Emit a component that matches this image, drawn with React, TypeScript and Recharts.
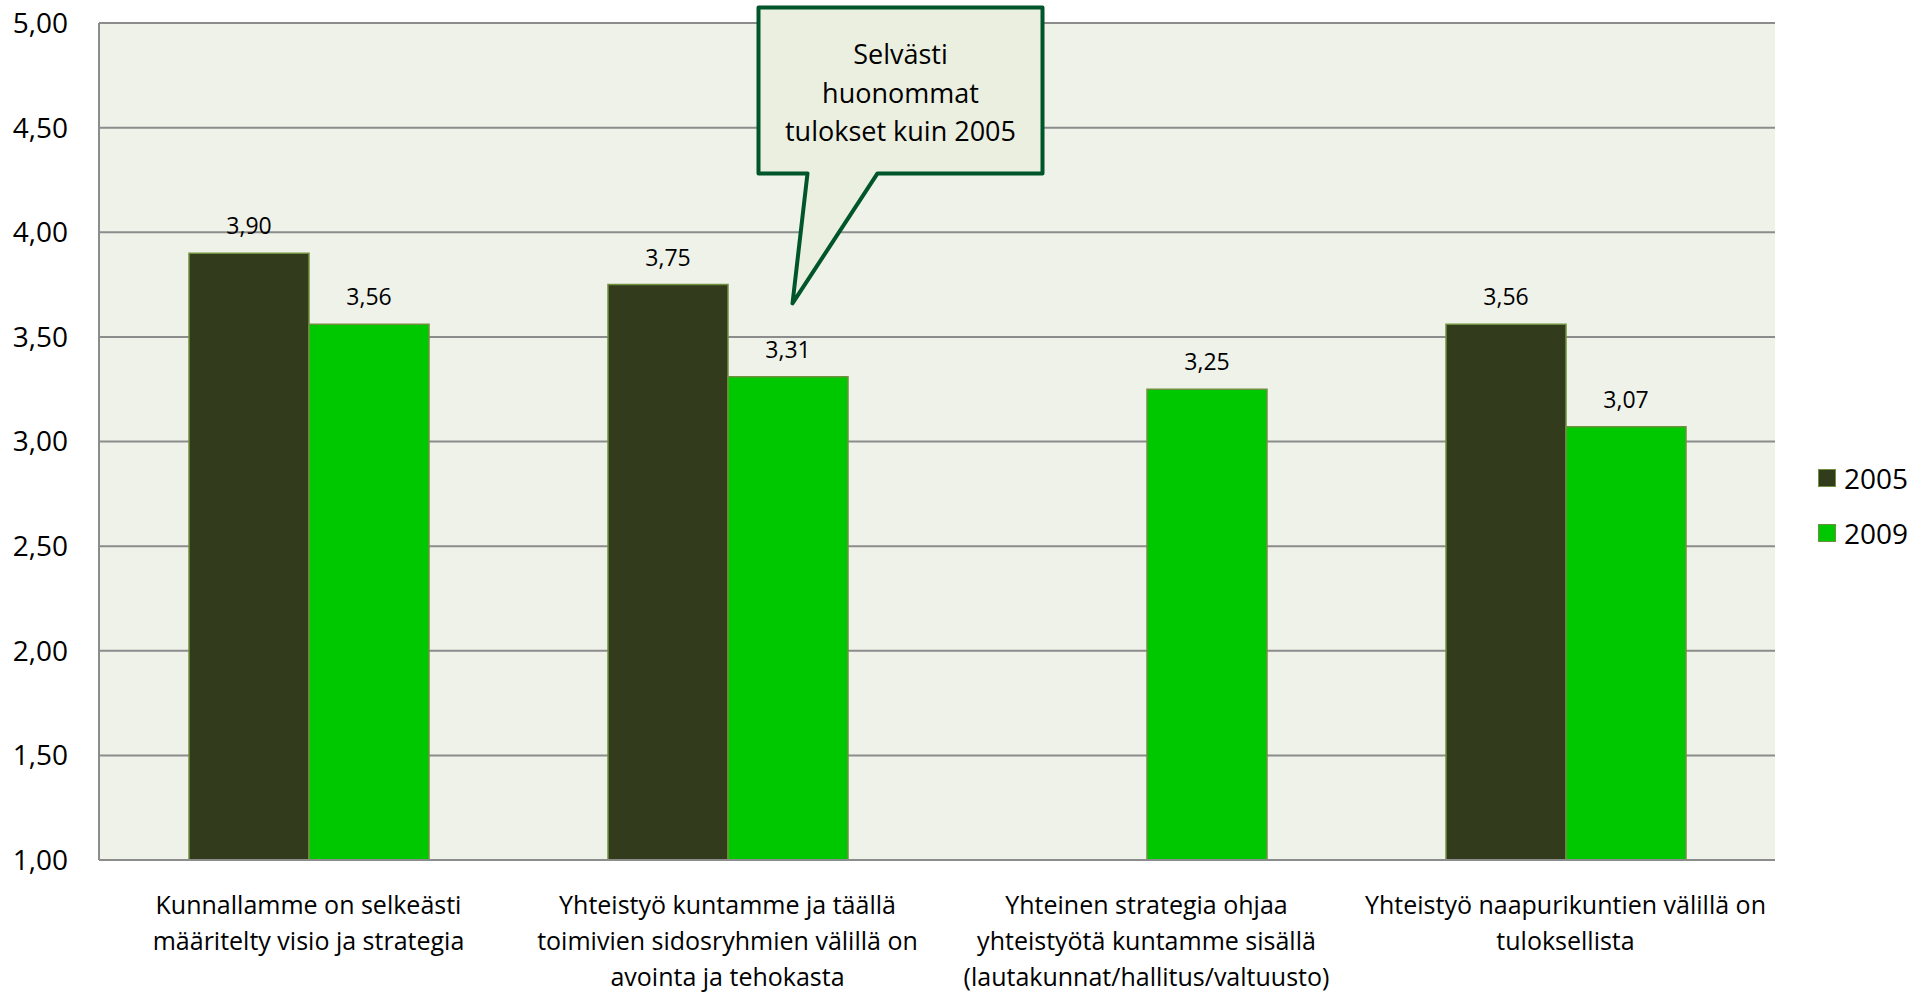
import React from 'react';
import { BarChart, Bar, XAxis, YAxis, CartesianGrid, LabelList, Legend, ReferenceDot } from 'recharts';

const categories = [
  'Kunnallamme on selkeästi\nmääritelty visio ja strategia',
  'Yhteistyö kuntamme ja täällä\ntoimivien sidosryhmien välillä on\navointa ja tehokasta',
  'Yhteinen strategia ohjaa\nyhteistyötä kuntamme sisällä\n(lautakunnat/hallitus/valtuusto)',
  'Yhteistyö naapurikuntien välillä on\ntuloksellista',
];
const values2005: (number | null)[] = [3.9, 3.75, null, 3.56];
const values2009: number[] = [3.56, 3.31, 3.25, 3.07];
const yTicks = [1, 1.5, 2, 2.5, 3, 3.5, 4, 4.5, 5];
const seriesNames = ['2005', '2009'];
const calloutLines = ['Selvästi', 'huonommat', 'tulokset kuin 2005'];
const calloutValue = 3.66;

const data = categories.map((c, i) => ({ name: c, v2005: values2005[i], v2009: values2009[i] }));

const FONT = '"Open Sans", sans-serif';
const fmt = (v: any) => (v == null ? '' : Number(v).toFixed(2).replace('.', ','));

const DARK = '#323B1B';
const GREEN = '#00C800';
const EDGE = '#71903F';

const XTick = (props: any) => {
  const { x, y, payload } = props;
  const lines = String(payload.value).split('\n');
  return (
    <text x={x} y={y} textAnchor="middle" fill="#000" fontSize={25} fontFamily={FONT}>
      {lines.map((l, i) => (
        <tspan key={i} x={x} y={y + 54 + i * 36}>{l}</tspan>
      ))}
    </text>
  );
};

const Callout = (props: any) => {
  const { cx, cy } = props;
  if (cx == null || cy == null) return null;
  const tx = cx + 65;
  const ty = cy;
  const L = tx - 34, R = tx + 250, T = ty - 296, B = ty - 130;
  const p1 = tx + 15, p2 = tx + 85;
  const pts = `${L},${T} ${R},${T} ${R},${B} ${p2},${B} ${tx},${ty} ${p1},${B} ${L},${B}`;
  const mid = (L + R) / 2;
  return (
    <g>
      <polygon points={pts} fill="#EBEFDF" stroke="#00552A" strokeWidth={4} strokeLinejoin="round" />
      {calloutLines.map((l, i) => (
        <text key={i} x={mid} y={T + 57 + i * 38.5} textAnchor="middle" fontSize={27} fontFamily={FONT} fill="#000">{l}</text>
      ))}
    </g>
  );
};

const LegendContent = () => (
  <div style={{ fontFamily: FONT, fontSize: 28, color: '#000' }}>
    {seriesNames.map((n, i) => (
      <div key={n} style={{ display: 'flex', alignItems: 'center', height: 55 }}>
        <div style={{ width: 16, height: 16, background: i === 0 ? DARK : GREEN, border: `1px solid ${EDGE}`, marginRight: 8 }} />
        <span>{n}</span>
      </div>
    ))}
  </div>
);

export default function App() {
  return (
    <div style={{ position: 'absolute', left: 0, top: 0, width: 1931, height: 994, background: '#fff', fontFamily: FONT }}>
      <BarChart width={1931} height={994} data={data} margin={{ top: 23, right: 156, bottom: 0, left: 0 }} barCategoryGap={90} barGap={0}>
        <CartesianGrid vertical={false} stroke="#8C8C8C" strokeWidth={2} fill="#EFF2E9" fillOpacity={1} />
        <XAxis dataKey="name" interval={0} height={134} tick={<XTick />} tickLine={false} tickSize={0} tickMargin={0} axisLine={{ stroke: '#8C8C8C', strokeWidth: 2 }} />
        <YAxis domain={[1, 5]} ticks={yTicks} width={99} tickFormatter={fmt} tickLine={false} tickSize={0} tickMargin={31}
          tick={{ fill: '#000', fontSize: 28, fontFamily: FONT }} axisLine={{ stroke: '#8C8C8C', strokeWidth: 2 }} allowDataOverflow />
        <Bar dataKey="v2005" name={seriesNames[0]} fill={DARK} stroke={EDGE} strokeWidth={1.5} isAnimationActive={false}>
          <LabelList dataKey="v2005" position="top" offset={19} formatter={fmt} fill="#000" fontSize={23} fontFamily={FONT} />
        </Bar>
        <Bar dataKey="v2009" name={seriesNames[1]} fill={GREEN} stroke={EDGE} strokeWidth={1.5} isAnimationActive={false}>
          <LabelList dataKey="v2009" position="top" offset={19} formatter={fmt} fill="#000" fontSize={23} fontFamily={FONT} />
        </Bar>
        <Legend layout="vertical" align="center" verticalAlign="middle" content={<LegendContent />}
          wrapperStyle={{ left: 1818, top: 450, right: 'auto', width: 120 }} />
        <ReferenceDot x={categories[1]} y={calloutValue} r={0} shape={<Callout />} ifOverflow="visible" />
      </BarChart>
    </div>
  );
}
